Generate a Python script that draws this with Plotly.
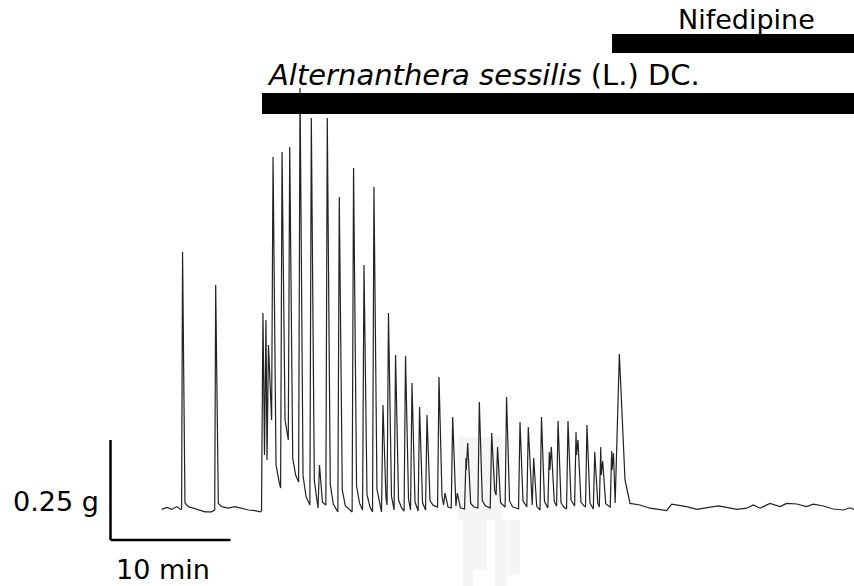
import plotly.graph_objects as go

# ---------------- data (time in min, force in g above resting baseline) ----------------
# spontaneous activity before the extract
rest_t = [0.14, 0.56, 0.98, 1.39, 1.73, 1.80, 1.88, 2.08, 2.36, 2.78, 3.33, 3.75, 4.31, 4.56,
          4.64, 4.86, 5.14, 5.69, 6.25, 6.81, 7.36, 7.92, 8.33, 8.46]
rest_f = [-0.001, 0.004, -0.001, 0.006, -0.001, 0.000, 0.643, 0.015, 0.006, 0.002, -0.0025,
          -0.007, -0.007, -0.0025, 0.560, 0.014, 0.006, 0.002, 0.006, 0.002, -0.0025, -0.004,
          -0.007, -0.005]

# contractions after Alternanthera sessilis extract (peak time, peak force, level before rise)
peak_t = [8.58, 8.83, 9.04, 9.42, 10.17, 10.81, 11.67, 12.61, 13.29, 13.94, 14.94, 16.13,
          17.00, 17.83, 18.58, 19.04, 19.63, 20.46, 21.00, 21.63, 22.25, 23.25, 23.75, 24.39,
          24.78, 25.50, 25.64, 26.61, 27.64, 28.13, 28.88, 30.00, 30.69, 31.14, 31.79, 32.44,
          32.61, 33.17, 34.00, 34.67, 34.83, 35.58, 36.23, 36.73, 36.89, 37.64, 37.79, 38.28]
peak_f = [0.490, 0.4725, 0.410, 0.880, 0.8925, 0.905, 1.0525, 0.9775, 0.110, 0.9775, 0.780,
          0.8525, 0.610, 0.805, 0.260, 0.490, 0.385, 0.3825, 0.315, 0.255, 0.235, 0.330, 0.040,
          0.230, 0.040, 0.1275, 0.165, 0.2675, 0.190, 0.155, 0.280, 0.2175, 0.205, 0.1275, 0.230,
          0.1425, 0.155, 0.220, 0.220, 0.1925, 0.1725, 0.210, 0.1425, 0.155, 0.120, 0.145, 0.140,
          0.3875]
trough_f = [-0.0025, 0.135, 0.1225, 0.2225, 0.0525, 0.1725, 0.0675, 0.010, 0.0025, 0.010,
            -0.0075, -0.0075, -0.0025, -0.0075, -0.0075, 0.010, -0.0025, -0.005, -0.0025, -0.005,
            -0.0025, 0.005, 0.010, 0.0025, 0.0075, 0.000, 0.0975, 0.0025, 0.0025, 0.035, 0.005,
            0.000, 0.005, 0.010, -0.0025, 0.0025, 0.0975, 0.0075, 0.000, 0.0075, 0.135, 0.005,
            0.000, 0.005, 0.085, 0.005, 0.0975, 0.015]

# decay and quiet trace after nifedipine
nif_t = [38.50, 38.75, 39.17, 40.00, 40.83, 41.67, 42.22, 42.64, 43.89, 44.72, 45.83, 46.53,
         47.22, 48.06, 48.89, 49.44, 50.00, 50.83, 51.67, 52.22, 53.06, 53.89, 54.44, 55.28,
         56.11, 56.94, 57.50, 57.83]
nif_f = [0.230, 0.0725, 0.014, 0.010, 0.002, -0.0025, -0.004, 0.012, 0.006, -0.001, 0.004,
         0.008, 0.004, -0.001, 0.002, 0.010, 0.002, 0.014, 0.006, 0.014, 0.0125, 0.006, 0.012,
         0.0075, 0.000, -0.0025, 0.003, -0.001]

# drug application bars (label, start time in min)
drug_labels = ["<i>Alternanthera sessilis</i> (L.) DC.", "Nifedipine"]
drug_start = [8.5, 37.67]

# calibration bars
scale_time = 10      # min
scale_force = 0.25   # g
scale_labels = ["0.25 g", "10 min"]

# ---------------- build the trace ----------------
def onset_of(i):
    return peak_t[i] - (0.35 if i == len(peak_t) - 1 else 0.12)

t_all = list(rest_t)
f_all = list(rest_f)
n = len(peak_t)
for i in range(n):
    t_all += [onset_of(i), peak_t[i]]
    f_all += [trough_f[i], peak_f[i]]
    if i < n - 1:
        nxt_on = onset_of(i + 1)
        base = trough_f[i + 1]
        amp = peak_f[i] - base
        for dt, frac in [(0.25, 0.07), (0.5, 0.02)]:
            if peak_t[i] + dt < nxt_on - 0.05:
                t_all.append(peak_t[i] + dt)
                f_all.append(base + frac * amp)
t_all += nif_t
f_all += nif_f

X0, X1 = -13.333, 57.833
Y0, Y1 = -0.1925, 1.2725

fig = go.Figure()
fig.add_trace(go.Scatter(x=t_all, y=f_all, mode="lines",
                         line=dict(color="#222222", width=1.2), hoverinfo="skip"))

shapes = []
# faint watermark
for (xa, xb, ya, yb) in [(458, 502, 437, 520), (463, 473, 520, 586), (473, 487, 520, 570),
                         (495, 507, 520, 586), (508, 520, 520, 575)]:
    shapes.append(dict(type="rect", xref="paper", yref="paper", layer="below",
                       x0=xa / 854, x1=xb / 854, y0=1 - yb / 586, y1=1 - ya / 586,
                       fillcolor="#f5f5f5", line=dict(width=0)))
# drug bars
bar_f = [(0.9875, 1.040), (1.140, 1.1875)]
for s, (fa, fb) in zip(drug_start, bar_f):
    shapes.append(dict(type="rect", xref="x", yref="y", x0=s, x1=X1 + 1, y0=fa, y1=fb,
                       fillcolor="black", line=dict(width=0)))
# calibration bars
sx, sy = -4.125, -0.0775
shapes.append(dict(type="line", xref="x", yref="y", x0=sx, x1=sx, y0=sy, y1=sy + scale_force,
                   line=dict(color="black", width=2.5)))
shapes.append(dict(type="line", xref="x", yref="y", x0=sx, x1=sx + scale_time, y0=sy, y1=sy,
                   line=dict(color="black", width=2.5)))

fam = "DejaVu Sans, Liberation Sans, Arial, sans-serif"
font = dict(family=fam, size=27, color="black")
font_big = dict(family=fam, size=29, color="black")
annotations = [
    dict(text=drug_labels[0], xref="paper", yref="paper", x=265 / 854, y=1 - 75 / 586,
         xanchor="left", yanchor="middle", showarrow=False, font=font_big),
    dict(text=drug_labels[1], xref="paper", yref="paper", x=746 / 854, y=1 - 19 / 586,
         xanchor="center", yanchor="middle", showarrow=False, font=font),
    dict(text=scale_labels[0], xref="paper", yref="paper", x=101 / 854, y=1 - 501 / 586,
         xanchor="right", yanchor="middle", showarrow=False, font=font),
    dict(text=scale_labels[1], xref="paper", yref="paper", x=163 / 854, y=0,
         xanchor="center", yanchor="bottom", borderpad=0, showarrow=False, font=font),
]

fig.update_layout(
    width=854, height=586, margin=dict(l=0, r=0, t=0, b=0),
    paper_bgcolor="white", plot_bgcolor="white", showlegend=False,
    xaxis=dict(range=[X0, X1], visible=False, showgrid=False, zeroline=False),
    yaxis=dict(range=[Y0, Y1], visible=False, showgrid=False, zeroline=False),
    shapes=shapes, annotations=annotations,
)
fig.write_html("out.html")
